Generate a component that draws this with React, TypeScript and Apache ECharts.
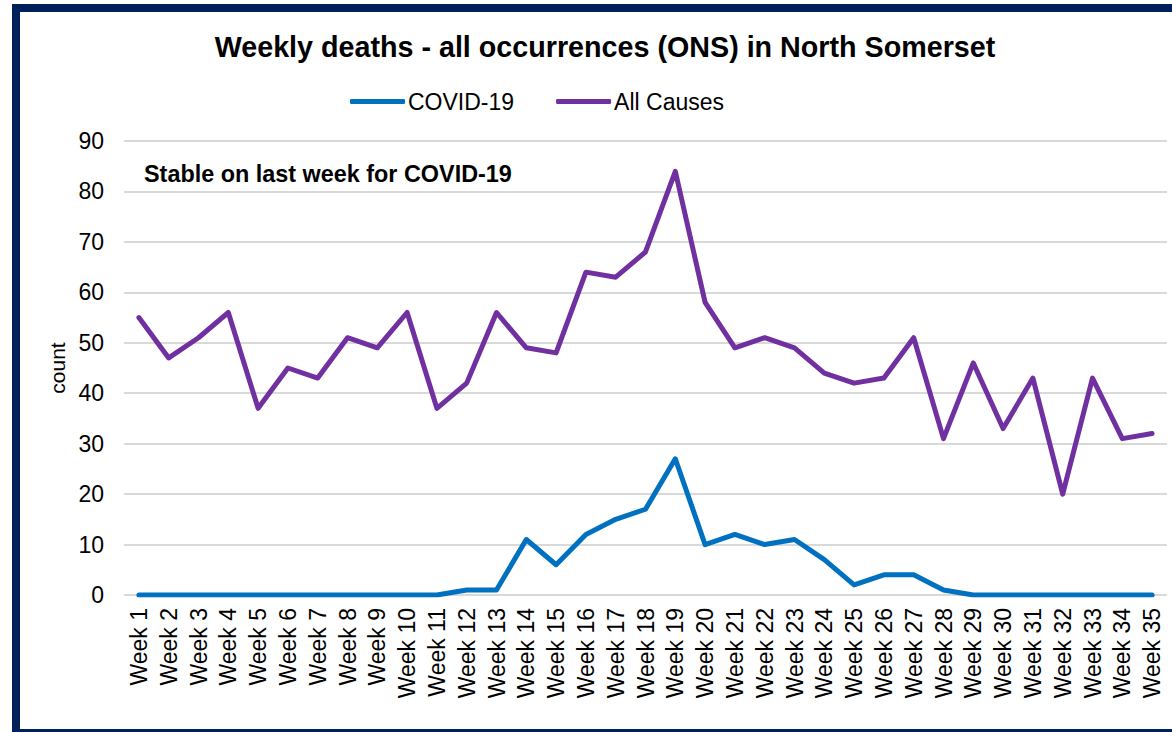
import React, { useEffect, useRef } from "react";
import * as echarts from "echarts";

const weeks = Array.from({ length: 35 }, (_, i) => `Week ${i + 1}`);
const covid = [0, 0, 0, 0, 0, 0, 0, 0, 0, 0, 0, 1, 1, 11, 6, 12, 15, 17, 27, 10, 12, 10, 11, 7, 2, 4, 4, 1, 0, 0, 0, 0, 0, 0, 0];
const allCauses = [55, 47, 51, 56, 37, 45, 43, 51, 49, 56, 37, 42, 56, 49, 48, 64, 63, 68, 84, 58, 49, 51, 49, 44, 42, 43, 51, 31, 46, 33, 43, 20, 43, 31, 32];

const FONT = "'Liberation Sans', Arial, sans-serif";

export default function App() {
  const ref = useRef<HTMLDivElement>(null);
  useEffect(() => {
    if (!ref.current) return;
    const chart = echarts.init(ref.current, null, { renderer: "svg" });
    chart.setOption({
      animation: false,
      backgroundColor: "#ffffff",
      textStyle: { fontFamily: FONT },
      title: {
        text: "Weekly deaths - all occurrences (ONS) in North Somerset",
        left: 600,
        textAlign: "center",
        top: 27,
        textStyle: { fontFamily: FONT, fontSize: 28.7, fontWeight: "bold", color: "#000" },
      },
      legend: {
        top: 85,
        left: 345,
        icon: "roundRect",
        itemWidth: 55,
        itemHeight: 5,
        itemGap: 42,
        textStyle: { fontFamily: FONT, fontSize: 23, color: "#000", padding: [0, 0, 0, -2] },
        data: ["COVID-19", "All Causes"],
      },
      graphic: [
        {
          type: "rect",
          shape: { x: 16, y: 8, width: 1200, height: 725 },
          style: { fill: "none", stroke: "#00205B", lineWidth: 8 },
          silent: true,
        },
        {
          type: "text",
          x: 144,
          y: 162,
          style: {
            text: "Stable on last week for COVID-19",
            font: `bold 23.4px ${FONT}`,
            fill: "#000",
          },
        },
      ],
      grid: { left: 124, right: 5, top: 141, bottom: 137 },
      xAxis: {
        type: "category",
        data: weeks,
        boundaryGap: true,
        axisLine: { show: false },
        axisTick: { show: false },
        axisLabel: { rotate: 90, interval: 0, margin: 13, fontFamily: FONT, fontSize: 23, color: "#000" },
      },
      yAxis: {
        type: "value",
        min: 0,
        max: 90,
        interval: 10,
        name: "count",
        nameLocation: "middle",
        nameGap: 54,
        nameRotate: 90,
        nameTextStyle: { fontFamily: FONT, fontSize: 21, color: "#000" },
        axisLine: { show: false },
        axisTick: { show: false },
        axisLabel: { margin: 20, fontFamily: FONT, fontSize: 23, color: "#000" },
        splitLine: { lineStyle: { color: "#D9D9D9", width: 2 } },
      },
      series: [
        {
          name: "COVID-19",
          type: "line",
          data: covid,
          symbol: "none",
          lineStyle: { color: "#0070C0", width: 5, cap: "round", join: "round" },
          itemStyle: { color: "#0070C0" },
        },
        {
          name: "All Causes",
          type: "line",
          data: allCauses,
          symbol: "none",
          lineStyle: { color: "#7030A0", width: 5, cap: "round", join: "round" },
          itemStyle: { color: "#7030A0" },
        },
      ],
    });
    return () => chart.dispose();
  }, []);
  return (
    <div
      ref={ref}
      style={{ position: "absolute", left: 0, top: 0, width: 1172, height: 732 }}
    />
  );
}
